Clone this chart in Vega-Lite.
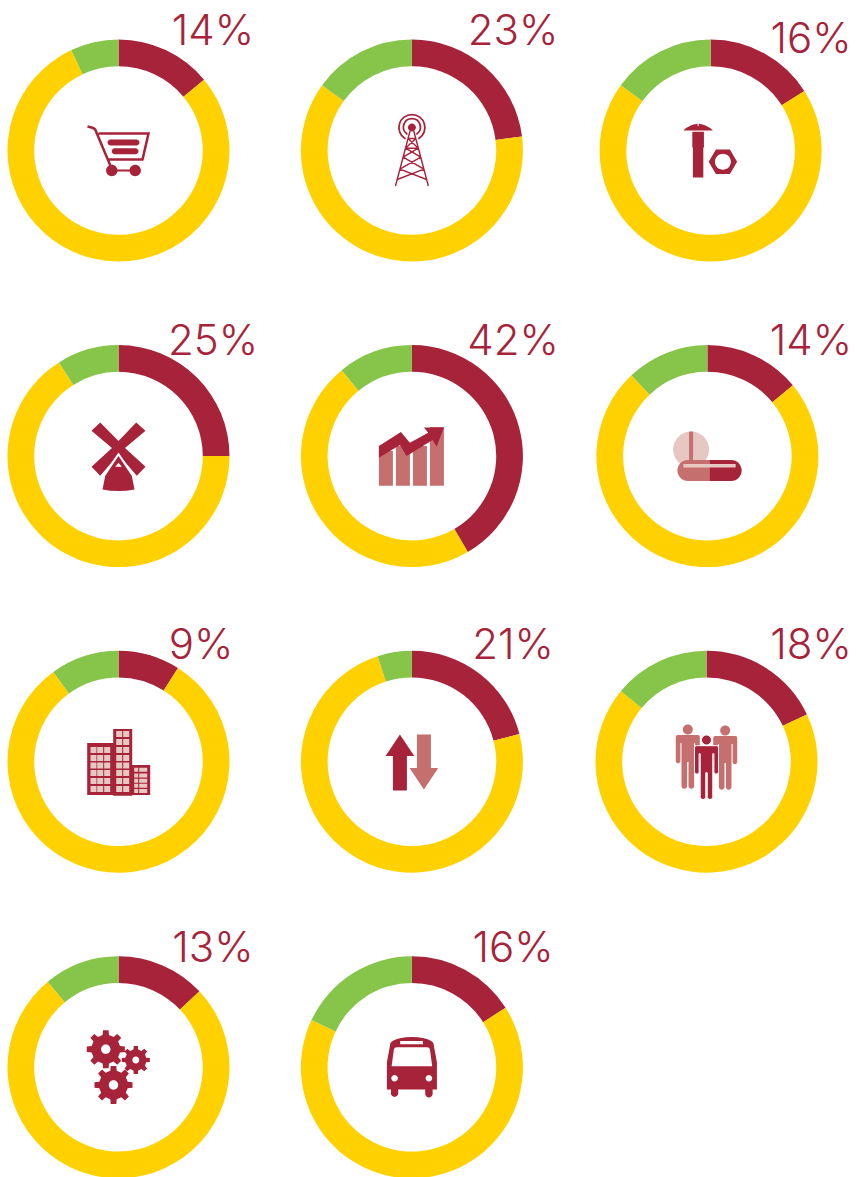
{"$schema":"https://vega.github.io/schema/vega-lite/v6.json","width":856,"height":1177,"autosize":{"type":"fit","contains":"padding"},"padding":0,"background":"#ffffff","config":{"view":{"stroke":null}},
"datasets":{
"slices":[
{"donut":"cart","col":0,"row":0,"segment":"highlight","seq":1,"share":14},{"donut":"cart","col":0,"row":0,"segment":"rest","seq":2,"share":79},{"donut":"cart","col":0,"row":0,"segment":"other","seq":3,"share":7},
{"donut":"tower","col":0.998,"row":0,"segment":"highlight","seq":1,"share":23},{"donut":"tower","col":0.998,"row":0,"segment":"rest","seq":2,"share":62},{"donut":"tower","col":0.998,"row":0,"segment":"other","seq":3,"share":15},
{"donut":"bolt","col":2.014,"row":0,"segment":"highlight","seq":1,"share":16},{"donut":"bolt","col":2.014,"row":0,"segment":"rest","seq":2,"share":69},{"donut":"bolt","col":2.014,"row":0,"segment":"other","seq":3,"share":15},
{"donut":"mill","col":0,"row":1,"segment":"highlight","seq":1,"share":25},{"donut":"mill","col":0,"row":1,"segment":"rest","seq":2,"share":66},{"donut":"mill","col":0,"row":1,"segment":"other","seq":3,"share":9},
{"donut":"growth","col":0.998,"row":1,"segment":"highlight","seq":1,"share":41.6},{"donut":"growth","col":0.998,"row":1,"segment":"rest","seq":2,"share":47.5},{"donut":"growth","col":0.998,"row":1,"segment":"other","seq":3,"share":10.9},
{"donut":"pill","col":2.003,"row":1,"segment":"highlight","seq":1,"share":14},{"donut":"pill","col":2.003,"row":1,"segment":"rest","seq":2,"share":74},{"donut":"pill","col":2.003,"row":1,"segment":"other","seq":3,"share":12},
{"donut":"city","col":0,"row":2,"segment":"highlight","seq":1,"share":9},{"donut":"city","col":0,"row":2,"segment":"rest","seq":2,"share":81},{"donut":"city","col":0,"row":2,"segment":"other","seq":3,"share":10},
{"donut":"swap","col":0.998,"row":2,"segment":"highlight","seq":1,"share":21},{"donut":"swap","col":0.998,"row":2,"segment":"rest","seq":2,"share":74},{"donut":"swap","col":0.998,"row":2,"segment":"other","seq":3,"share":5},
{"donut":"crowd","col":2,"row":2,"segment":"highlight","seq":1,"share":18},{"donut":"crowd","col":2,"row":2,"segment":"rest","seq":2,"share":68},{"donut":"crowd","col":2,"row":2,"segment":"other","seq":3,"share":14},
{"donut":"gears","col":0,"row":3,"segment":"highlight","seq":1,"share":13},{"donut":"gears","col":0,"row":3,"segment":"rest","seq":2,"share":76},{"donut":"gears","col":0,"row":3,"segment":"other","seq":3,"share":11},
{"donut":"bus","col":0.998,"row":3,"segment":"highlight","seq":1,"share":16},{"donut":"bus","col":0.998,"row":3,"segment":"rest","seq":2,"share":66},{"donut":"bus","col":0.998,"row":3,"segment":"other","seq":3,"share":18}
],
"fills":[
{"col":0,"row":0,"glyph":"cart-parts","tone":"dark"},
{"col":0.998,"row":0,"glyph":"tower-dot","tone":"dark"},
{"col":2.014,"row":0,"glyph":"bolt-parts","tone":"dark"},{"col":2.014,"row":0,"glyph":"bolt-holes","tone":"white"},
{"col":0,"row":1,"glyph":"mill-blades","tone":"dark"},{"col":0,"row":1,"glyph":"mill-gap","tone":"white"},{"col":0,"row":1,"glyph":"mill-body","tone":"dark"},{"col":0,"row":1,"glyph":"mill-door","tone":"white"},
{"col":0.998,"row":1,"glyph":"chart-bars","tone":"tint"},{"col":0.998,"row":1,"glyph":"chart-arrow","tone":"dark"},
{"col":2.003,"row":1,"glyph":"pill-disc","tone":"pale"},{"col":2.003,"row":1,"glyph":"pill-score","tone":"tint"},{"col":2.003,"row":1,"glyph":"pill-left","tone":"tint"},{"col":2.003,"row":1,"glyph":"pill-right","tone":"dark"},{"col":2.003,"row":1,"glyph":"pill-shine","tone":"pale"},
{"col":0,"row":2,"glyph":"city-walls","tone":"dark"},{"col":0,"row":2,"glyph":"city-windows","tone":"pale"},
{"col":0.998,"row":2,"glyph":"swap-up","tone":"dark"},{"col":0.998,"row":2,"glyph":"swap-down","tone":"tint"},
{"col":2,"row":2,"glyph":"crowd-back","tone":"tint"},{"col":2,"row":2,"glyph":"crowd-front","tone":"halo"},
{"col":0,"row":3,"glyph":"gear-teeth","tone":"dark"},{"col":0,"row":3,"glyph":"gear-holes","tone":"white"},
{"col":0.998,"row":3,"glyph":"bus-body","tone":"dark"},{"col":0.998,"row":3,"glyph":"bus-glass","tone":"white"}
],
"lines":[
{"col":0,"row":0,"glyph":"cart-frame"},
{"col":0.998,"row":0,"glyph":"tower-frame"},
{"col":0.998,"row":0,"glyph":"tower-rings"}
],
"labels":[
{"col":0,"row":0,"label":"14%"},{"col":1,"row":0,"label":"23%"},{"col":2,"row":0.026,"label":"16%"},
{"col":0,"row":1,"label":"25%"},{"col":1,"row":1,"label":"42%"},{"col":2,"row":1,"label":"14%"},
{"col":-0.04,"row":2,"label":"9%"},{"col":1,"row":2,"label":"21%"},{"col":2,"row":2,"label":"18%"},
{"col":0,"row":3,"label":"13%"},{"col":1,"row":3,"label":"16%"}
]},
"resolve":{"scale":{"x":"independent","y":"independent","shape":"independent","fill":"independent","stroke":"independent","color":"independent","theta":"independent","strokeWidth":"independent"},"axis":{"x":"independent","y":"independent"}},
"layer":[
{"data":{"name":"slices"},
"transform":[{"stack":"share","groupby":["donut"],"sort":[{"field":"seq","order":"ascending"}],"as":["from","to"]}],
"mark":{"type":"arc","innerRadius":84.3,"outerRadius":111},
"encoding":{
"x":{"field":"col","type":"quantitative","axis":null,"scale":{"domain":[0,2],"range":[118.5,706.5],"nice":false,"zero":false}},
"y":{"field":"row","type":"quantitative","axis":null,"scale":{"domain":[0,3],"range":[150.5,1067.3],"nice":false,"zero":false}},
"theta":{"field":"from","type":"quantitative","scale":{"domain":[0,100],"range":[0,6.283185]}},
"theta2":{"field":"to"},
"color":{"field":"segment","type":"nominal","legend":null,"scale":{"domain":["highlight","rest","other"],"range":["#A6233A","#FFD100","#87C54A"]}}
}},
{"data":{"name":"fills"},
"mark":{"type":"point","filled":true,"opacity":1,"size":4,"strokeWidth":1},
"encoding":{
"x":{"field":"col","type":"quantitative","axis":null,"scale":{"domain":[0,2],"range":[118.5,706.5],"nice":false,"zero":false}},
"y":{"field":"row","type":"quantitative","axis":null,"scale":{"domain":[0,3],"range":[150.5,1067.3],"nice":false,"zero":false}},
"fill":{"field":"tone","type":"nominal","legend":null,"scale":{"domain":["dark","tint","pale","white","halo"],"range":["#A6233A","#C66F6F","#E7C7C2","#FFFFFF","#A6233A"]}},
"stroke":{"field":"tone","type":"nominal","legend":null,"scale":{"domain":["dark","tint","pale","white","halo"],"range":["transparent","transparent","transparent","transparent","#FFFFFF"]}},
"shape":{"field":"glyph","type":"nominal","legend":null,"scale":{"domain":["cart-parts","tower-dot","bolt-parts","bolt-holes","mill-blades","mill-gap","mill-body","mill-door","chart-bars","chart-arrow","pill-disc","pill-score","pill-left","pill-right","pill-shine","city-walls","city-windows","swap-up","swap-down","crowd-back","crowd-front","gear-teeth","gear-holes","bus-body","bus-glass"],
"range":[
"M-8,-11 H18 A3,3 0 0 1 18,-5 H-8 A3,3 0 0 1 -8,-11 Z M-3.7,-2.3 H17 A3,3 0 0 1 17,3.7 H-3.7 A3,3 0 0 1 -3.7,-2.3 Z M-6.7,19 H16.7 V21 H-6.7 Z M-12.4,20 A5.7,5.7 0 1 1 -1,20 A5.7,5.7 0 1 1 -12.4,20 Z M11,20 A5.7,5.7 0 1 1 22.4,20 A5.7,5.7 0 1 1 11,20 Z",
"M-4,-23 A4,4 0 1 0 4,-23 A4,4 0 1 0 -4,-23 Z",
"M-27.3,-20 Q-12.5,-33.4 2.3,-20 Z M-18.3,-18.7 H-6.7 V-3 H-7.3 V27 H-17.7 V-3 H-18.3 Z M-1.9,11.3 L5.3,-0.9 H19.3 L26.5,11.3 L19.3,23.5 H5.3 Z",
"M-13,-28 H-12 V-24.5 H-13 Z M4.3,11.3 A8,8 0 1 0 20.3,11.3 A8,8 0 1 0 4.3,11.3 Z",
"M-18.3,-33.7 L0,-15 L17.7,-33.7 L27,-25.3 L6.5,-8 L27,10.7 L18.3,19.7 L0,-1.5 L-18.3,19.7 L-27,10.7 L-6.5,-8 L-27,-25.3 Z",
"M0,-3.5 L-17,21 L-14,34 L14,34 L17,21 Z",
"M0,0 L-13.3,20 L-16,33.3 Q0,36.5 16,33.3 L13.3,20 Z",
"M-3.3,10.7 L0,6.7 L3.3,10.7 Z",
"M-33,-5 H-19 V29.7 H-33 Z M-16,-10 H-2 V29.7 H-16 Z M1,-10 H15 V29.7 H1 Z M18,-29 H32 V29.7 H18 Z",
"M-33,-10 L-11,-24 L-2,-13.3 L16.3,-23.3 L12,-28.7 L32,-28.7 L24.7,-9.3 L20.7,-16 L-5.3,0 L-12,-11 L-33,1.7 Z",
"M-34.3,-6.7 A18,18 0 1 0 1.7,-6.7 A18,18 0 1 0 -34.3,-6.7 Z",
"M-18.3,-24.5 H-14.3 V4 H-18.3 Z",
"M2,4 H-19.5 A10.5,10.5 0 0 0 -19.5,25 H2 Z",
"M2,4 H23.8 A10.5,10.5 0 0 1 23.8,25 H2 Z",
"M-24,8 H28.3 V11.3 H-24 Z",
"M-31.3,-18.7 H-5.3 V-32.7 H13.7 V3.3 H31.7 V33.3 H13.7 V34 H-5.3 V33.3 H-31.3 Z",
"M-28,-14.7 h6 v6 h-6 z M-21.3,-14.7 h6 v6 h-6 z M-14.3,-14.7 h6 v6 h-6 z M-28,-6.7 h6 v6 h-6 z M-21.3,-6.7 h6 v6 h-6 z M-14.3,-6.7 h6 v6 h-6 z M-28,0.7 h6 v6 h-6 z M-21.3,0.7 h6 v6 h-6 z M-14.3,0.7 h6 v6 h-6 z M-28,8.3 h6 v6 h-6 z M-21.3,8.3 h6 v6 h-6 z M-14.3,8.3 h6 v6 h-6 z M-28,16.3 h6 v6 h-6 z M-21.3,16.3 h6 v6 h-6 z M-14.3,16.3 h6 v6 h-6 z M-28,24.3 h6 v6 h-6 z M-21.3,24.3 h6 v6 h-6 z M-14.3,24.3 h6 v6 h-6 z M-2.3,-30.7 h6 v6 h-6 z M4.7,-30.7 h6 v6 h-6 z M-2.3,-22.7 h6 v6 h-6 z M4.7,-22.7 h6 v6 h-6 z M-2.3,-14.7 h6 v6 h-6 z M4.7,-14.7 h6 v6 h-6 z M-2.3,-6.7 h6 v6 h-6 z M4.7,-6.7 h6 v6 h-6 z M-2.3,0.7 h6 v6 h-6 z M4.7,0.7 h6 v6 h-6 z M-2.3,8.3 h6 v6 h-6 z M4.7,8.3 h6 v6 h-6 z M-2.3,16.3 h6 v6 h-6 z M4.7,16.3 h6 v6 h-6 z M-2.3,24.3 h6 v6 h-6 z M4.7,24.3 h6 v6 h-6 z M15.7,6 h4 v4 h-4 z M20.7,6 h8 v4 h-8 z M15.7,11.7 h4 v4 h-4 z M20.7,11.7 h8 v4 h-8 z M15.7,17 h4 v4 h-4 z M20.7,17 h8 v4 h-8 z M15.7,22 h4 v4 h-4 z M20.7,22 h8 v4 h-8 z M15.7,27.3 h4 v4 h-4 z M20.7,27.3 h8 v4 h-8 z",
"M-12,-27.3 L2.3,-5.7 H-5 V28.7 H-19 V-5.7 H-26.3 Z",
"M5,-27.3 H19 V6.3 H26.3 L12,27.7 L-2.3,6.3 H5 Z",
"M-23.7,-32.3 A5,5 0 1 0 -13.7,-32.3 A5,5 0 1 0 -23.7,-32.3 Z M-30.7,-24.7 q0,-2 2,-2 h20 q2,0 2,2 v24 a2.3,2.3 0 0 1 -4.6,0 v-18 h-1.1 v43 a2.8,2.8 0 0 1 -5.6,0 v-24 h-1.4 v24 a2.8,2.8 0 0 1 -5.6,0 v-43 h-1.1 v18 a2.3,2.3 0 0 1 -4.6,0 z M13.7,-31.3 A5,5 0 1 0 23.7,-31.3 A5,5 0 1 0 13.7,-31.3 Z M6.7,-23.7 q0,-2 2,-2 h20 q2,0 2,2 v24 a2.3,2.3 0 0 1 -4.6,0 v-18 h-1.1 v43 a2.8,2.8 0 0 1 -5.6,0 v-24 h-1.4 v24 a2.8,2.8 0 0 1 -5.6,0 v-43 h-1.1 v18 a2.3,2.3 0 0 1 -4.6,0 z",
"M-5,-21.7 A5,5 0 1 0 5,-21.7 A5,5 0 1 0 -5,-21.7 Z M-12,-14 q0,-2 2,-2 h20 q2,0 2,2 v24 a2.3,2.3 0 0 1 -4.6,0 v-18 h-1.1 v43 a2.8,2.8 0 0 1 -5.6,0 v-24 h-1.4 v24 a2.8,2.8 0 0 1 -5.6,0 v-43 h-1.1 v18 a2.3,2.3 0 0 1 -4.6,0 z",
"M-15.9,-32.2 l0.4,-4.8 l5.6,0 l0.4,4.8 l4.58,1.9 l3.68,-3.11 l3.95,3.95 l-3.11,3.68 l1.9,4.58 l4.8,0.4 l0,5.6 l-4.8,0.4 l-1.9,4.58 l3.11,3.68 l-3.95,3.95 l-3.68,-3.11 l-4.58,1.9 l-0.4,4.8 l-5.6,0 l-0.4,-4.8 l-4.58,-1.9 l-3.68,3.11 l-3.95,-3.95 l3.11,-3.68 l-1.9,-4.58 l-4.8,-0.4 l0,-5.6 l4.8,-0.4 l1.9,-4.58 l-3.11,-3.68 l3.95,-3.95 l3.68,3.11 z M-8.2,3.5 l0.4,-4.8 l5.6,0 l0.4,4.8 l4.58,1.9 l3.68,-3.11 l3.95,3.95 l-3.11,3.68 l1.9,4.58 l4.8,0.4 l0,5.6 l-4.8,0.4 l-1.9,4.58 l3.11,3.68 l-3.95,3.95 l-3.68,-3.11 l-4.58,1.9 l-0.4,4.8 l-5.6,0 l-0.4,-4.8 l-4.58,-1.9 l-3.68,3.11 l-3.95,-3.95 l3.11,-3.68 l-1.9,-4.58 l-4.8,-0.4 l0,-5.6 l4.8,-0.4 l1.9,-4.58 l-3.11,-3.68 l3.95,-3.95 l3.68,3.11 z M14.94,-17.76 l0.29,-3.54 l4.13,0 l0.29,3.54 l3.38,1.4 l2.71,-2.29 l2.91,2.91 l-2.29,2.71 l1.4,3.38 l3.54,0.29 l0,4.13 l-3.54,0.29 l-1.4,3.38 l2.29,2.71 l-2.91,2.91 l-2.71,-2.29 l-3.38,1.4 l-0.29,3.54 l-4.13,0 l-0.29,-3.54 l-3.38,-1.4 l-2.71,2.29 l-2.91,-2.91 l2.29,-2.71 l-1.4,-3.38 l-3.54,-0.29 l0,-4.13 l3.54,-0.29 l1.4,-3.38 l-2.29,-2.71 l2.91,-2.91 l2.71,2.29 z",
"M-17.4,-18 A4.7,4.7 0 1 0 -8,-18 A4.7,4.7 0 1 0 -17.4,-18 Z M-9.7,17.7 A4.7,4.7 0 1 0 -0.3,17.7 A4.7,4.7 0 1 0 -9.7,17.7 Z M13.8,-7.3 A3.5,3.5 0 1 0 20.8,-7.3 A3.5,3.5 0 1 0 13.8,-7.3 Z",
"M-25,22.3 L-25,-5 L-21.5,-24 Q-20,-27 -12,-29 Q0,-31.5 12,-29 Q20,-27 21.5,-24 L25,-5 L25,22.3 L20.7,22.3 V26.5 A3.7,3.7 0 0 1 13.3,26.5 V22.3 H-13.7 V26.5 A3.7,3.7 0 0 1 -21,26.5 V22.3 Z",
"M-20.3,-1 L-18,-18 Q-17.5,-20 -15,-20 H15 Q17.5,-20 18,-18 L20.3,-1 Z M-11.7,-26.3 H11 V-23 H-11.7 Z M-20.6,11 A3.3,3.3 0 1 0 -14,11 A3.3,3.3 0 1 0 -20.6,11 Z M13.7,11 A3.3,3.3 0 1 0 20.3,11 A3.3,3.3 0 1 0 13.7,11 Z"
]}}
}},
{"data":{"name":"lines"},
"mark":{"type":"point","filled":false,"opacity":1,"size":4,"color":"#A6233A","strokeCap":"round"},
"encoding":{
"x":{"field":"col","type":"quantitative","axis":null,"scale":{"domain":[0,2],"range":[118.5,706.5],"nice":false,"zero":false}},
"y":{"field":"row","type":"quantitative","axis":null,"scale":{"domain":[0,3],"range":[150.5,1067.3],"nice":false,"zero":false}},
"strokeWidth":{"field":"glyph","type":"ordinal","legend":null,"scale":{"type":"ordinal","domain":["cart-frame","tower-frame","tower-rings"],"range":[2.5,1.4,1.8]}},
"shape":{"field":"glyph","type":"nominal","legend":null,"scale":{"domain":["cart-frame","tower-frame","tower-rings"],
"range":[
"M-30,-23.7 Q-25,-23 -23.3,-21 L-8.3,14.7 M-19,-17 H30 L24,9 H-10",
"M-2,-19 L-16.3,35 M2,-19 L16.3,35 M-3.9,-12 L6.4,-2.3 M3.9,-12 L-6.4,-2.3 M-6.4,-2.3 L8.8,6.7 M6.4,-2.3 L-8.8,6.7 M-8.8,6.7 L12,18.7 M8.8,6.7 L-12,18.7 M-12,18.7 L14.7,29 M12,18.7 L-14.7,29 M-3.9,-12 H3.9 M-6.4,-2.3 H6.4",
"M-7,-12 A13,13 0 1 1 7,-12 M-5,-16.6 A8.5,8.5 0 1 1 5,-16.6"
]}}
}},
{"data":{"name":"labels"},
"mark":{"type":"text","font":"Inter","fontWeight":300,"fontSize":42,"align":"center","baseline":"alphabetic","color":"#A6233A"},
"encoding":{
"x":{"field":"col","type":"quantitative","axis":null,"scale":{"domain":[0,1,2],"range":[213,513,811],"nice":false,"zero":false}},
"y":{"field":"row","type":"quantitative","axis":null,"scale":{"domain":[0,1,2,3],"range":[45,355,659,962],"nice":false,"zero":false}},
"text":{"field":"label","type":"nominal"}
}}
]}
